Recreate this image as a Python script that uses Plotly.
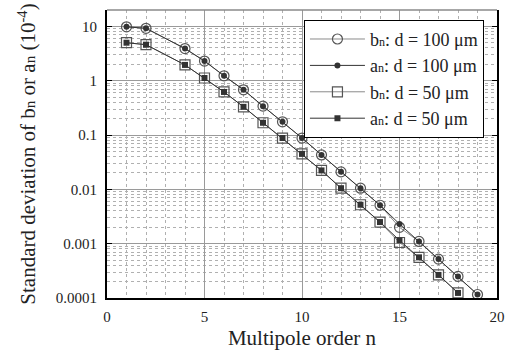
import plotly.graph_objects as go

# Multipole orders sampled (n = 3 not reported)
n_100 = [1, 2, 4, 5, 6, 7, 8, 9, 10, 11, 12, 13, 14, 15, 16, 17, 18, 19]
b_100 = [9.8, 9.2, 3.9, 2.3, 1.23, 0.68, 0.34, 0.175, 0.088, 0.043, 0.021,
         0.0105, 0.0051, 0.0020, 0.0011, 0.00052, 0.00025, 0.000116]
a_100 = [9.8, 9.2, 3.9, 2.3, 1.23, 0.68, 0.34, 0.175, 0.088, 0.043, 0.021,
         0.0105, 0.0051, 0.0023, 0.0011, 0.00052, 0.00025, 0.000116]

n_50 = [1, 2, 4, 5, 6, 7, 8, 9, 10, 11, 12, 13, 14, 15, 16, 17, 18]
b_50 = [5.0, 4.6, 1.95, 1.12, 0.62, 0.33, 0.168, 0.088, 0.045, 0.0223,
        0.0105, 0.0052, 0.0025, 0.00105, 0.00056, 0.000266, 0.000124]
a_50 = [5.0, 4.6, 1.95, 1.12, 0.62, 0.33, 0.168, 0.088, 0.045, 0.0223,
        0.0105, 0.0052, 0.0025, 0.00115, 0.00056, 0.000266, 0.000124]

y_ticks = [10, 1, 0.1, 0.01, 0.001, 0.0001]
y_tick_text = ["10", "1", "0.1", "0.01", "0.001", "0.0001"]
x_ticks = [0, 5, 10, 15, 20]

FONT = "Liberation Serif, Times New Roman, serif"
sub = "<span style='font-size:12px'>{}</span>"
sub_title = "<span style='font-size:15px'>{}</span>"

fig = go.Figure()
fig.add_trace(go.Scatter(
    x=n_100, y=b_100, mode="lines+markers",
    name="b" + sub.format("n") + ": d = 100 μm",
    line=dict(color="#8a8a8a", width=1),
    marker=dict(symbol="circle-open", size=10, color="#555555", line=dict(width=1.2)),
))
fig.add_trace(go.Scatter(
    x=n_100, y=a_100, mode="lines+markers",
    name="a" + sub.format("n") + ": d = 100 μm",
    line=dict(color="#333333", width=1),
    marker=dict(symbol="circle", size=6, color="#333333"),
))
fig.add_trace(go.Scatter(
    x=n_50, y=b_50, mode="lines+markers",
    name="b" + sub.format("n") + ": d = 50 μm",
    line=dict(color="#8a8a8a", width=1),
    marker=dict(symbol="square-open", size=10, color="#555555", line=dict(width=1.2)),
))
fig.add_trace(go.Scatter(
    x=n_50, y=a_50, mode="lines+markers",
    name="a" + sub.format("n") + ": d = 50 μm",
    line=dict(color="#333333", width=1),
    marker=dict(symbol="square", size=6, color="#333333"),
))

fig.update_xaxes(
    range=[0, 20], tickvals=x_ticks, ticks="", showline=True,
    linecolor="black", linewidth=2, mirror=False, zeroline=False,
    showgrid=True, gridcolor="#9a9a9a", gridwidth=1,
    minor=dict(dtick=1, showgrid=True, gridcolor="#b0b0b0", griddash="dot", gridwidth=1),
    tickfont=dict(family=FONT, size=15, color="#222"), ticklabelstandoff=4,
    title=dict(text="Multipole order n", font=dict(family=FONT, size=21, color="#222"), standoff=6),
)
fig.update_yaxes(
    type="log", range=[-4, 1.301], tickvals=y_ticks, ticktext=y_tick_text,
    ticks="inside", ticklen=5, tickcolor="black", showline=True,
    linecolor="black", linewidth=2, mirror="ticks",
    showgrid=True, gridcolor="#9a9a9a", gridwidth=1,
    minor=dict(dtick="D1", showgrid=True, gridcolor="#b0b0b0", griddash="dot", gridwidth=1, ticks=""),
    tickfont=dict(family=FONT, size=15, color="#222"), ticklabelstandoff=5,
    title=dict(text="Standard deviation of b" + sub_title.format("n") + " or a" + sub_title.format("n")
               + " (10<sup>-4</sup>)",
               font=dict(family=FONT, size=21, color="#222"), standoff=14),
)

# Top frame edge in lighter gray
fig.add_shape(type="line", xref="paper", yref="paper", x0=0, x1=1, y0=1, y1=1,
              line=dict(color="#8a8a8a", width=1.5))

fig.update_layout(
    width=515, height=356,
    margin=dict(l=107, r=10, t=10, b=50),
    paper_bgcolor="white", plot_bgcolor="white",
    showlegend=True,
    legend=dict(
        x=0.505, y=0.966, xanchor="left", yanchor="top",
        bgcolor="white", bordercolor="black", borderwidth=1,
        font=dict(family=FONT, size=18, color="#222"),
        tracegroupgap=0, itemwidth=55,
    ),
)

fig.write_html("out.html")
